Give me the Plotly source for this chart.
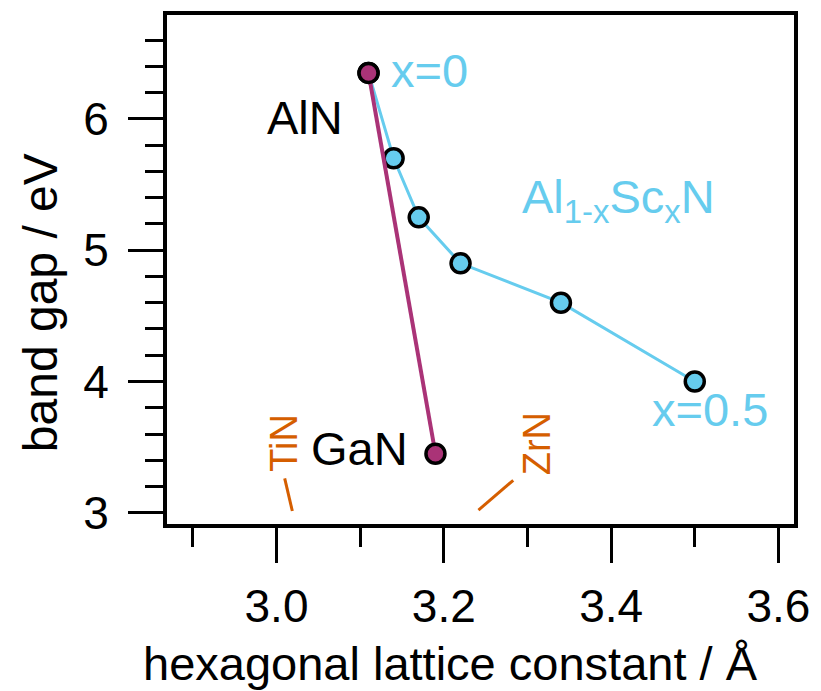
import plotly.graph_objects as go

# AlScN series (lattice constant / Å, band gap / eV)
alscn_a = [3.11, 3.14, 3.17, 3.22, 3.34, 3.50]
alscn_eg = [6.35, 5.70, 5.25, 4.90, 4.60, 4.00]

# AlN - GaN line
algan_a = [3.11, 3.19]
algan_eg = [6.35, 3.45]

x_tickvals = [3.0, 3.2, 3.4, 3.6]
x_ticktext = ["3.0", "3.2", "3.4", "3.6"]
y_tickvals = [3, 4, 5, 6]
y_ticktext = ["3", "4", "5", "6"]

BLUE = "#66CCEE"
PURPLE = "#AA3377"
ORANGE = "#D55E00"
FONT = "Liberation Sans, Arial, Helvetica, sans-serif"

fig = go.Figure()
fig.add_trace(go.Scatter(
    x=alscn_a, y=alscn_eg, mode="lines+markers",
    line=dict(color=BLUE, width=3),
    marker=dict(size=19, color=BLUE, line=dict(color="black", width=3.5)),
    showlegend=False, cliponaxis=False))
fig.add_trace(go.Scatter(
    x=algan_a, y=algan_eg, mode="lines+markers",
    line=dict(color=PURPLE, width=4),
    marker=dict(size=19, color=PURPLE, line=dict(color="black", width=3.5)),
    showlegend=False, cliponaxis=False))

ann = [
    dict(text="x=0", x=3.135, y=6.37, xanchor="left", color=BLUE, size=47),
    dict(text="AlN", x=3.082, y=6.01, xanchor="right", color="black", size=47),
    dict(text="GaN", x=3.159, y=3.49, xanchor="right", color="black", size=47),
    dict(text="Al<sub>1-x</sub>Sc<sub>x</sub>N", x=3.291, y=5.38, xanchor="left", color=BLUE, size=47),
    dict(text="x=0.5", x=3.446, y=3.79, xanchor="left", color=BLUE, size=47),
]
for a in ann:
    fig.add_annotation(text=a["text"], x=a["x"], y=a["y"], xref="x", yref="y",
                       xanchor=a["xanchor"], yanchor="middle", showarrow=False,
                       font=dict(family=FONT, size=a["size"], color=a["color"]))

# rotated orange labels with leader lines
for txt, tx, ty in [("TiN", 3.0097, 3.53), ("ZrN", 3.311, 3.527)]:
    fig.add_annotation(text=txt, x=tx, y=ty, xref="x", yref="y", textangle=-90,
                       xanchor="center", yanchor="middle", showarrow=False,
                       font=dict(family=FONT, size=38, color=ORANGE))
leader_x0 = [3.0098, 3.283]
leader_y0 = [3.263, 3.248]
leader_x1 = [3.0189, 3.2414]
leader_y1 = [3.014, 3.021]
for x0, y0, x1, y1 in zip(leader_x0, leader_y0, leader_x1, leader_y1):
    fig.add_shape(type="line", x0=x0, y0=y0, x1=x1, y1=y1, xref="x", yref="y",
                  line=dict(color=ORANGE, width=3))

# axis titles (placed as annotations to match reference offsets)
fig.add_annotation(text="hexagonal lattice constant / Å", x=0.4527, y=-0.2749,
                   xref="paper", yref="paper", xanchor="center", yanchor="middle",
                   showarrow=False, font=dict(family=FONT, size=47, color="black"))
fig.add_annotation(text="band gap / eV", x=-0.2019, y=0.4347, textangle=-90,
                   xref="paper", yref="paper", xanchor="center", yanchor="middle",
                   showarrow=False, font=dict(family=FONT, size=48, color="black"))

fig.update_layout(
    width=821, height=691,
    margin=dict(l=167, r=20, t=11, b=167),
    plot_bgcolor="white", paper_bgcolor="white",
    font=dict(family=FONT, color="black"),
)
fig.update_xaxes(
    range=[2.8691, 3.6186], showgrid=False, zeroline=False,
    showline=True, linecolor="black", linewidth=4, mirror=True,
    ticks="outside", ticklen=35, tickwidth=3, tickcolor="black",
    tickvals=x_tickvals, ticktext=x_ticktext,
    tickfont=dict(size=46, family=FONT), ticklabelstandoff=4,
    minor=dict(ticks="outside", ticklen=19, tickwidth=3, tickcolor="black", dtick=0.1, tick0=3.0, showgrid=False),
)
fig.update_yaxes(
    range=[2.915, 6.791], showgrid=False, zeroline=False,
    showline=True, linecolor="black", linewidth=4, mirror=True,
    ticks="outside", ticklen=35, tickwidth=3, tickcolor="black",
    tickvals=y_tickvals, ticktext=y_ticktext,
    tickfont=dict(size=46, family=FONT), ticklabelstandoff=10,
    minor=dict(ticks="outside", ticklen=18, tickwidth=3, tickcolor="black", dtick=0.2, tick0=3.0, showgrid=False),
)

fig.write_html("out.html")
